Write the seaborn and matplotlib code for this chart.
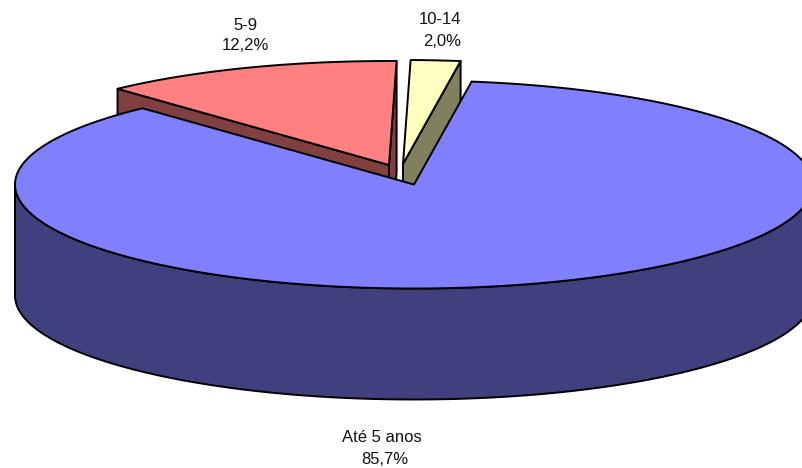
import numpy as np
import matplotlib
matplotlib.use("Agg")
import matplotlib.pyplot as plt
import seaborn as sns

# Data
categories = ["Até 5 anos", "5-9", "10-14"]
values = [85.7, 12.2, 2.0]
value_labels = ["85,7%", "12,2%", "2,0%"]

# Style
top_colors = sns.color_palette(["#8080FF", "#FF8080", "#FFFFC0"])
side_colors = sns.color_palette(["#40407F", "#804040", "#80805F"])
tips = [(414, 184.5), (389, 165), (403, 164)]
label_pos = [(382, 385, 437, 459), (245, 245, 26, 46), (440, 442, 20, 42)]
RX, RY, DEPTH = 399, 104, 111
START = 8.3
LW = 1.4
EDGE = "black"

sns.set_style("white")
plt.rcParams["font.family"] = ["Liberation Sans", "DejaVu Sans"]

fig = plt.figure(figsize=(8.02, 4.68), dpi=100)
ax = fig.add_axes([0, 0, 1, 1])
ax.set_xlim(0, 802)
ax.set_ylim(468, 0)
ax.axis("off")

fractions = np.array(values) / np.sum(values)
sweeps = fractions * 360.0
starts = START + np.concatenate([[0.0], np.cumsum(sweeps)[:-1]])


def arc(tip, a0, a1, n=240):
    t = np.radians(np.linspace(a0, a1, n))
    return tip[0] + RX * np.sin(t), tip[1] - RY * np.cos(t)


def rim_point(tip, a):
    x, y = arc(tip, a, a, 1)
    return x[0], y[0]


def poly(xs, ys, color, z):
    ax.fill(xs, ys, facecolor=color, edgecolor=EDGE, linewidth=LW,
            joinstyle="round", zorder=z)


def radial_wall(tip, a, color, z):
    x, y = rim_point(tip, a)
    poly([x, x, tip[0], tip[0]], [y, y + DEPTH, tip[1] + DEPTH, tip[1]], color, z)


# Wedge 1 (5-9): both radial walls are visible
a0, a1 = starts[1], starts[1] + sweeps[1]
radial_wall(tips[1], a0, side_colors[1], 1)
radial_wall(tips[1], a1, side_colors[1], 1)
xs, ys = arc(tips[1], a0, a1)
poly(np.r_[tips[1][0], xs], np.r_[tips[1][1], ys], top_colors[1], 2)

# Wedge 2 (10-14): right radial wall
a0, a1 = starts[2], starts[2] + sweeps[2]
radial_wall(tips[2], a1, side_colors[2], 1)
xs, ys = arc(tips[2], a0, a1)
poly(np.r_[tips[2][0], xs], np.r_[tips[2][1], ys], top_colors[2], 2)

# Wedge 0 (Até 5 anos): outer wall on the front half, then top face
xs, ys = arc(tips[0], 90, 270)
poly(np.r_[xs, xs[::-1]], np.r_[ys, ys[::-1] + DEPTH], side_colors[0], 3)
a0, a1 = starts[0], starts[0] + sweeps[0]
xs, ys = arc(tips[0], a0, a1, 600)
poly(np.r_[tips[0][0], xs], np.r_[tips[0][1], ys], top_colors[0], 4)

for name, share, (x1, x2, y1, y2) in zip(categories, value_labels, label_pos):
    ax.text(x1, y1, name, ha="center", va="center", fontsize=12, color="#111111")
    ax.text(x2, y2, share, ha="center", va="center", fontsize=12, color="#111111")

fig.savefig("out.png", dpi=100)
